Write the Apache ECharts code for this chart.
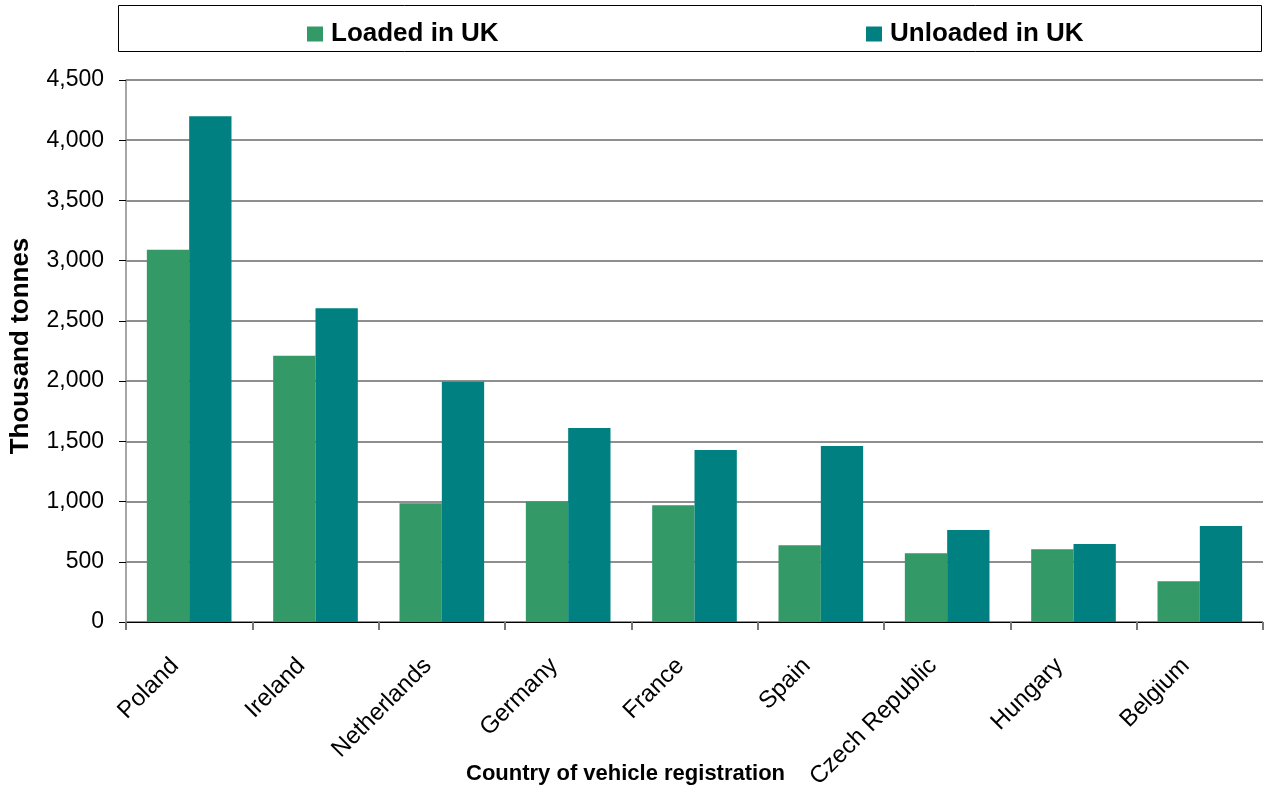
<!DOCTYPE html>
<html>
<head>
<meta charset="utf-8">
<script src="https://cdn.jsdelivr.net/npm/echarts@6/dist/echarts.min.js"></script>
<style>html,body{margin:0;padding:0;background:#fff}#c{width:1264px;height:792px}</style>
</head>
<body>
<div id="c"></div>
<script>
var categories = ['Poland','Ireland','Netherlands','Germany','France','Spain','Czech Republic','Hungary','Belgium'];
var loadedInUK = [3090, 2210, 985, 1000, 970, 637, 570, 604, 338];
var unloadedInUK = [4200, 2605, 1995, 1611, 1428, 1461, 764, 648, 797];
var yTicks = {min: 0, max: 4500, interval: 500};

var FONT = '"Liberation Sans", Arial, sans-serif';
var legendText = {fontFamily: FONT, fontWeight: 'bold', fontSize: 26, color: '#000', padding: [0,0,0,3]};
var chart = echarts.init(document.getElementById('c'), null, {renderer: 'canvas'});
chart.setOption({
  animation: false,
  backgroundColor: '#fff',
  graphic: [
    {type: 'rect', shape: {x: 118.5, y: 5.5, width: 1143, height: 46}, style: {fill: 'none', stroke: '#000', lineWidth: 1}, z: 0},
    {type: 'text', left: 466, top: 763, style: {text: 'Country of vehicle registration', font: 'bold 22px ' + FONT, fill: '#000'}}
  ],
  legend: [
    {top: 16, left: 302, itemWidth: 16, itemHeight: 15, icon: 'rect', textStyle: legendText, data: ['Loaded in UK']},
    {top: 16, left: 861, itemWidth: 16, itemHeight: 15, icon: 'rect', textStyle: legendText, data: ['Unloaded in UK']}
  ],
  grid: {left: 125, right: 1, top: 80, bottom: 170, containLabel: false},
  xAxis: {
    type: 'category',
    data: categories,
    axisLine: {lineStyle: {color: '#000', width: 1}},
    axisTick: {show: true, length: 8, lineStyle: {color: '#777', width: 2}},
    axisLabel: {rotate: 45, fontFamily: FONT, fontSize: 24, color: '#000', margin: 26, interval: 0, padding: [0, 20, 0, 0]}
  },
  yAxis: {
    type: 'value',
    min: yTicks.min, max: yTicks.max, interval: yTicks.interval,
    name: 'Thousand tonnes',
    nameLocation: 'middle', nameGap: 92,
    nameTextStyle: {fontFamily: FONT, fontWeight: 'bold', fontSize: 26, color: '#000', padding: [0, 0, 0, 10]},
    axisLine: {show: true, lineStyle: {color: '#888', width: 1.5}},
    axisTick: {show: true, length: 7, lineStyle: {color: '#000'}},
    axisLabel: {fontFamily: FONT, fontSize: 23, color: '#000', margin: 22,
      formatter: function(v){ return v.toLocaleString('en-US'); }},
    splitLine: {show: true, lineStyle: {color: '#8f8f8f', width: 2}}
  },
  series: [
    {name: 'Loaded in UK', type: 'bar', data: loadedInUK, barGap: '0%', barCategoryGap: '33%',
     itemStyle: {color: '#339966'}},
    {name: 'Unloaded in UK', type: 'bar', data: unloadedInUK, barGap: '0%', barCategoryGap: '33%',
     itemStyle: {color: '#008080'}}
  ]
});
</script>
</body>
</html>
